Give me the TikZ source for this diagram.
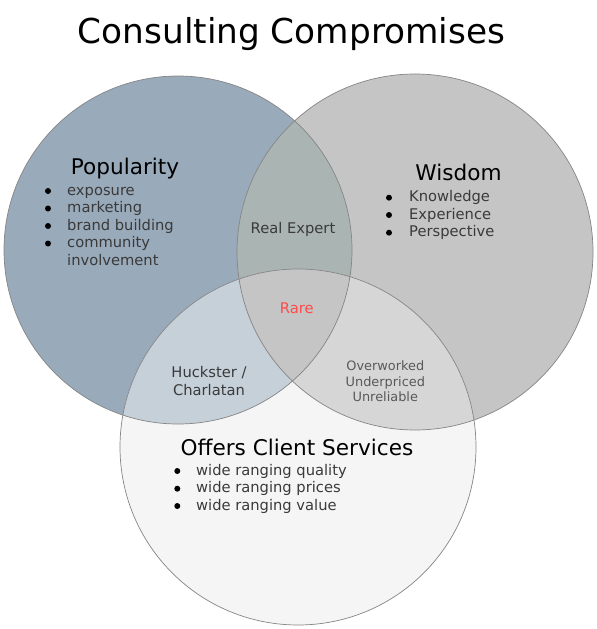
\documentclass[tikz,border=0pt]{standalone}
\usepackage{fontspec}
\setmainfont{DejaVu Sans}
\definecolor{popblue}{HTML}{99AABB}
\definecolor{wisgray}{HTML}{C5C5C5}
\definecolor{offwhite}{HTML}{F5F5F5}
\definecolor{popwis}{HTML}{AAB4B3}
\definecolor{popoff}{HTML}{C6D0D9}
\definecolor{wisoff}{HTML}{D6D6D6}
\definecolor{allthree}{HTML}{C5C5C5}
\definecolor{rimgray}{HTML}{858585}
\definecolor{itemgray}{HTML}{3A3A3A}
\definecolor{rarered}{HTML}{FF4A4A}
\tikzset{
  heading/.style={anchor=base,inner sep=0pt,font=\fontsize{21.6bp}{26bp}\selectfont},
  item/.style={anchor=base west,inner sep=0pt,text=itemgray,font=\fontsize{14.7bp}{17.5bp}\selectfont},
  overlap/.style={anchor=base,inner sep=0pt,text=itemgray,font=\fontsize{14.7bp}{17.5bp}\selectfont},
  smallnote/.style={anchor=base,inner sep=0pt,text=black!65,font=\fontsize{12.9bp}{15.5bp}\selectfont}
}

\begin{document}
\begin{tikzpicture}[x=1bp,y=-1bp]
\useasboundingbox (0,0) rectangle (597,629);
\coordinate (popc) at (178,250);
\coordinate (wisc) at (415,252);
\coordinate (offc) at (298,447);
% circles
\fill[popblue] (popc) circle (174);
\fill[wisgray] (wisc) circle (178);
\fill[offwhite] (offc) circle (178);
% overlaps
\begin{scope} \clip (popc) circle (174); \fill[popwis] (wisc) circle (178); \end{scope}
\begin{scope} \clip (popc) circle (174); \fill[popoff] (offc) circle (178); \end{scope}
\begin{scope} \clip (wisc) circle (178); \fill[wisoff] (offc) circle (178); \end{scope}
\begin{scope} \clip (popc) circle (174); \clip (wisc) circle (178); \fill[allthree] (offc) circle (178); \end{scope}
\draw[rimgray,line width=0.7bp] (popc) circle (174);
\draw[rimgray,line width=0.7bp] (wisc) circle (178);
\draw[rimgray,line width=0.7bp] (offc) circle (178);

\node[anchor=base,inner sep=0pt,font=\fontsize{34.3bp}{40bp}\selectfont] (title) at (291.5,44) {Consulting Compromises};

% Popularity
\node[heading] (pop) at (125,175) {Popularity};
\fill (48,191) circle (3); \node[item] (pop1) at (67,195) {exposure};
\fill (48,208.5) circle (3); \node[item] (pop2) at (67,212.5) {marketing};
\fill (48,226) circle (3); \node[item] (pop3) at (67,230) {brand building};
\fill (48,243.5) circle (3); \node[item] (pop4) at (67,247.5) {community};
\node[item] (pop4b) at (67,265) {involvement};

% Wisdom
\node[heading] (wis) at (458.5,180.7) {Wisdom};
\fill (389,197.7) circle (3); \node[item] (wis1) at (409,201.7) {Knowledge};
\fill (389,215) circle (3); \node[item] (wis2) at (409,219) {Experience};
\fill (389,232.7) circle (3); \node[item] (wis3) at (409,236.7) {Perspective};

% Offers Client Services
\node[heading] (off) at (297,455) {Offers Client Services};
\fill (177.3,471) circle (3); \node[item] (off1) at (196,475) {wide ranging quality};
\fill (177.3,488.7) circle (3); \node[item] (off2) at (196,492.7) {wide ranging prices};
\fill (177.3,506) circle (3); \node[item] (off3) at (196,510) {wide ranging value};

% intersections
\node[overlap] (expert) at (293,233) {Real Expert};
\node[overlap,text=rarered] (rare) at (296.7,313.3) {Rare};
\node[overlap] (huckster) at (209,377.7) {Huckster /};
\node[overlap] (charlatan) at (209,395) {Charlatan};
\node[smallnote] (overworked) at (385.3,370.7) {Overworked};
\node[smallnote] (underpriced) at (385.3,386) {Underpriced};
\node[smallnote] (unreliable) at (385.3,401.7) {Unreliable};
\end{tikzpicture}
\end{document}
